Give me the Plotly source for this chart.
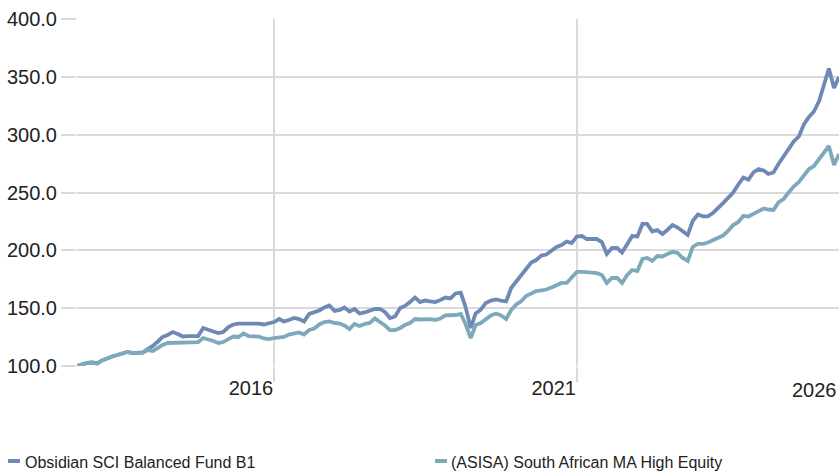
import pandas as pd
import plotly.graph_objects as go

# Monthly index values (month-ends), Sep 2013 .. Apr 2026
start_month = "2013-09-30"
series_names = ["Obsidian SCI Balanced Fund B1", "(ASISA) South African MA High Equity"]

obsidian = [
    100.0, 101.3, 102.6, 103.0, 102.2, 104.8, 106.9, 108.2, 109.5, 110.8,
    112.1, 111.2, 111.2, 111.7, 114.7, 117.3, 121.2, 125.1, 126.8, 129.4,
    127.7, 125.5, 125.9, 125.9, 125.9, 132.9, 131.1, 129.8, 128.5, 129.4,
    133.7, 135.9, 136.7, 136.7, 137.2, 137.2, 136.7, 135.9, 136.7, 138.0,
    140.6, 138.5, 139.8, 141.5, 140.6, 138.5, 145.0, 146.7, 148.0, 150.6,
    152.3, 147.6, 148.4, 150.6, 147.1, 149.3, 145.4, 146.3, 148.0, 149.3,
    149.3, 146.7, 141.5, 142.8, 150.1, 151.9, 155.3, 159.2, 155.3, 156.6,
    155.8, 155.3, 157.1, 159.2, 158.4, 162.7, 163.5, 151.0, 132.9, 145.4,
    148.8, 154.5, 156.6, 157.5, 156.6, 155.8, 167.4, 173.1, 179.1, 184.7,
    189.5, 191.6, 195.5, 196.4, 199.9, 202.9, 204.6, 207.6, 206.3, 212.0,
    212.4, 209.8, 209.8, 209.8, 207.2, 196.8, 202.0, 202.0, 198.1, 205.9,
    212.4, 212.0, 222.8, 222.8, 216.3, 217.6, 214.1, 217.6, 221.9, 219.7,
    216.3, 213.3, 225.4, 231.0, 229.4, 229.4, 232.3, 237.0, 240.9, 245.3,
    250.0, 256.9, 263.0, 261.2, 267.3, 270.3, 269.0, 266.0, 267.3, 274.6,
    280.7, 287.2, 294.1, 298.4, 308.8, 315.3, 320.0, 329.1, 343.4, 357.2,
    340.4, 349.9,
]

asisa = [
    100.0, 101.3, 102.6, 103.0, 102.2, 104.8, 106.9, 108.2, 109.5, 110.8,
    112.1, 111.2, 111.2, 111.4, 113.8, 113.0, 115.6, 118.2, 119.9, 119.9,
    119.9, 120.3, 120.3, 119.9, 120.7, 124.2, 123.3, 121.6, 119.9, 120.7,
    123.3, 125.5, 125.1, 128.1, 125.9, 125.9, 125.5, 123.8, 123.3, 124.2,
    124.6, 125.1, 127.2, 128.5, 129.0, 127.2, 131.1, 132.4, 135.9, 138.0,
    138.5, 137.2, 136.7, 135.0, 132.0, 136.3, 134.6, 136.3, 137.2, 141.1,
    138.5, 135.0, 131.1, 131.1, 132.9, 135.4, 137.2, 140.6, 140.2, 140.6,
    140.6, 139.8, 141.1, 143.7, 143.7, 144.1, 145.0, 136.3, 124.2, 135.4,
    137.2, 140.6, 143.7, 145.4, 143.7, 140.6, 148.4, 153.2, 156.2, 160.5,
    162.7, 164.8, 165.3, 166.1, 167.9, 170.0, 171.8, 171.8, 176.9, 181.3,
    181.3, 181.3, 180.8, 180.4, 178.7, 171.8, 176.1, 176.1, 171.8, 178.7,
    183.0, 182.1, 192.5, 193.4, 190.8, 195.1, 194.7, 196.8, 198.6, 197.7,
    193.4, 190.8, 202.9, 205.5, 205.5, 206.8, 208.9, 210.2, 212.8, 216.7,
    221.9, 224.5, 229.7, 229.3, 231.4, 233.6, 236.2, 235.3, 234.9, 241.4,
    244.4, 250.0, 255.2, 259.1, 264.3, 270.3, 272.9, 279.0, 285.9, 290.2,
    273.8, 283.3,
]

y_tick_values = [100, 150, 200, 250, 300, 350, 400]
x_tick_dates = ["2017-01-01", "2022-01-01"]
x_tick_labels = ["2016", "2021"]
last_tick_label = "2026"

dates = pd.date_range(start=start_month, periods=len(obsidian), freq="ME")

col_o = "#6f89b6"
col_a = "#7daaba"
grid = "#dadada"
font_family = "Arial, 'Liberation Sans', sans-serif"
tick_size = 20

fig = go.Figure()
fig.add_trace(go.Scatter(x=dates, y=obsidian, mode="lines", name=series_names[0],
                         line=dict(color=col_o, width=3.8)))
fig.add_trace(go.Scatter(x=dates, y=asisa, mode="lines", name=series_names[1],
                         line=dict(color=col_a, width=3.8)))

fig.update_layout(
    width=839, height=475,
    margin=dict(l=77, r=0, t=19, b=109),
    paper_bgcolor="white", plot_bgcolor="white",
    showlegend=False,
    font=dict(family=font_family, color="#222222"),
    xaxis=dict(
        range=[dates[0], dates[-1]],
        tickvals=x_tick_dates, ticktext=x_tick_labels,
        ticklabelposition="outside left",
        ticklabelstandoff=4,
        showgrid=True, gridcolor=grid, gridwidth=2,
        ticks="outside", ticklen=15, tickcolor=grid, tickwidth=2,
        showline=False, zeroline=False, automargin=False,
        tickfont=dict(size=tick_size, color="#222222"),
    ),
    yaxis=dict(
        range=[100, 400],
        tickvals=y_tick_values, tickformat=".1f",
        showgrid=True, gridcolor=grid, gridwidth=2,
        ticks="outside", ticklen=15, tickcolor=grid, tickwidth=2,
        showline=False, zeroline=False, automargin=False,
        tickfont=dict(size=tick_size, color="#222222"),
    ),
)

# last year label at the right edge
fig.add_annotation(xref="paper", yref="paper", x=1, y=-0.068, text=last_tick_label,
                   showarrow=False, xanchor="right", yanchor="middle",
                   font=dict(size=tick_size, color="#222222", family=font_family))

# custom legend
legend_items = [
    (series_names[0], col_o, -0.0906, -0.0748, -0.0709),
    (series_names[1], col_a, 0.4698, 0.4856, 0.4882),
]
for name, col, x0, x1, xt in legend_items:
    fig.add_shape(type="line", xref="paper", yref="paper", x0=x0, x1=x1,
                  y0=-0.2737, y1=-0.2737, line=dict(color=col, width=4))
    fig.add_annotation(xref="paper", yref="paper", x=xt, y=-0.2795, text=name,
                       showarrow=False, xanchor="left", yanchor="middle",
                       font=dict(size=16, color="#222222", family=font_family))

fig.write_html("out.html", config={"displayModeBar": False},
               post_script="document.body.style.margin='0px';")
